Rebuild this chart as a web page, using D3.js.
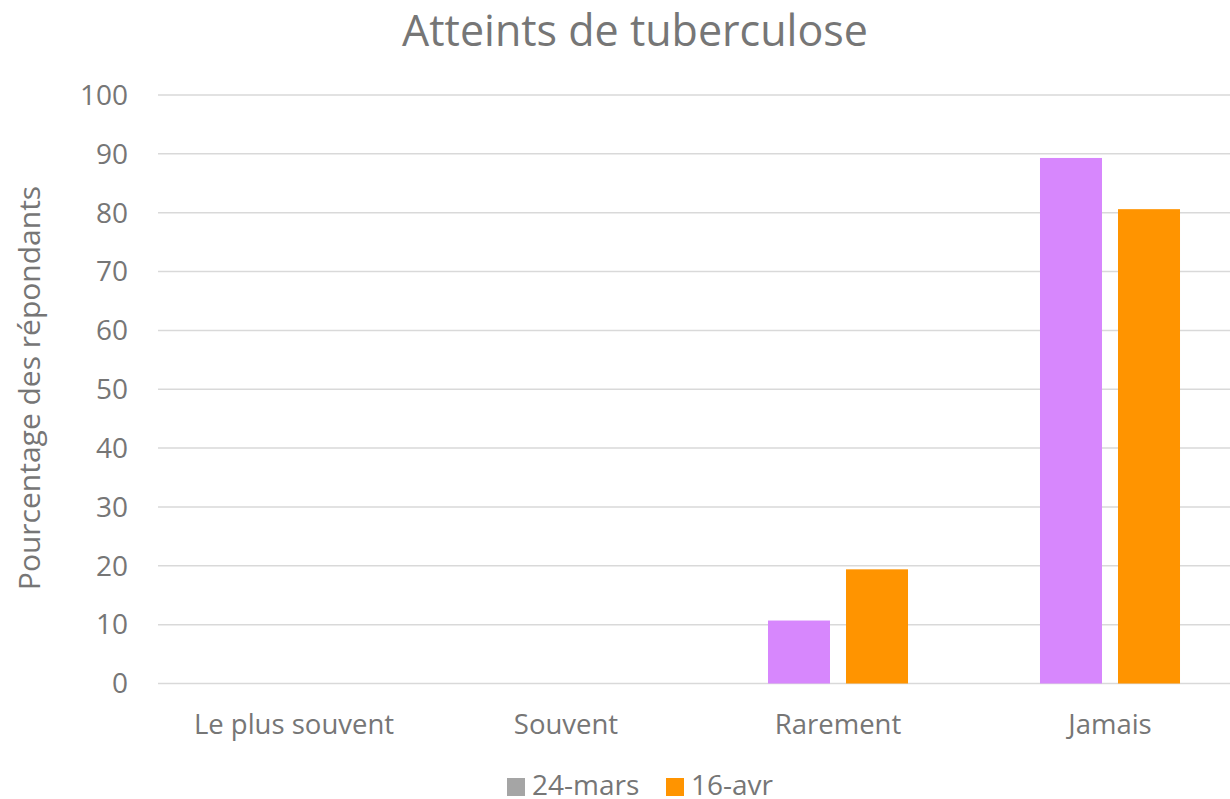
<!DOCTYPE html>
<html>
<head>
<meta charset="utf-8">
<script src="https://d3js.org/d3.v7.min.js"></script>
<style>
  body { margin: 0; background: #fff; }
  text { font-family: "Open Sans", sans-serif; fill: #767676; }
</style>
</head>
<body>
<div id="chart"></div>
<script>
const categories = ["Le plus souvent", "Souvent", "Rarement", "Jamais"];
const series = ["24-mars", "16-avr"];
const mars = [0, 0, 10.7, 89.3];
const avr = [0, 0, 19.4, 80.6];
const yTicks = [0, 10, 20, 30, 40, 50, 60, 70, 80, 90, 100];
const barColors = ["#d787fd", "#ff9400"];
const legendColors = ["#a5a5a5", "#ff9400"];

const W = 1230, H = 799;
const left = 158;
const svg = d3.select("#chart").append("svg")
  .attr("width", W).attr("height", H);

const y = d3.scaleLinear().domain([0, 100]).range([683.5, 95]);
// plot area runs past the right edge of the picture
const x0 = d3.scaleBand().domain(categories).range([left, 1246]).padding(0);
const x1 = d3.scaleBand().domain(series).range([0, x0.bandwidth()])
  .paddingInner(0.205).paddingOuter(0.846);

// gridlines
svg.append("g").selectAll("line").data(yTicks).join("line")
  .attr("x1", left).attr("x2", W)
  .attr("y1", d => y(d)).attr("y2", d => y(d))
  .attr("stroke", "#d9d9d9").attr("stroke-width", 1.5);

// y tick labels
svg.append("g").selectAll("text").data(yTicks).join("text")
  .attr("x", 128).attr("y", d => y(d))
  .attr("dy", "0.35em").attr("text-anchor", "end")
  .style("font-size", "28px").text(d => d);

// bars
const rows = categories.map((c, i) => ({cat: c, vals: [mars[i], avr[i]]}));
svg.append("g").selectAll("g").data(rows).join("g")
  .attr("transform", d => `translate(${x0(d.cat)},0)`)
  .selectAll("rect").data(d => d.vals.map((v, j) => ({s: series[j], v: v, j: j})))
  .join("rect")
  .attr("x", d => x1(d.s)).attr("width", x1.bandwidth())
  .attr("y", d => y(d.v)).attr("height", d => y(0) - y(d.v))
  .attr("fill", d => barColors[d.j]);

// category labels
svg.append("g").selectAll("text").data(categories).join("text")
  .attr("x", d => x0(d) + x0.bandwidth() / 2).attr("y", 734)
  .attr("text-anchor", "middle").style("font-size", "27.5px").text(d => d);

// title
svg.append("text").attr("x", 635).attr("y", 46)
  .attr("text-anchor", "middle").style("font-size", "43px")
  .text("Atteints de tuberculose");

// y axis title
svg.append("text")
  .attr("transform", "translate(40,388) rotate(-90)")
  .attr("text-anchor", "middle").style("font-size", "30px")
  .text("Pourcentage des répondants");

// legend
const legend = svg.append("g");
const lx = [507, 666];
series.forEach((s, i) => {
  legend.append("rect").attr("x", lx[i]).attr("y", 778)
    .attr("width", 18).attr("height", 18).attr("fill", legendColors[i]);
  legend.append("text").attr("x", lx[i] + 25).attr("y", 795)
    .style("font-size", "28px").text(s);
});
</script>
</body>
</html>
